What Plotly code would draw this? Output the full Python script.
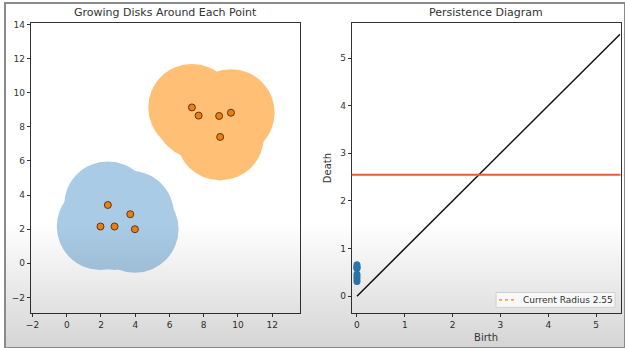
import numpy as np
import plotly.graph_objects as go

# ---- data ----
blue_x = [1.97, 2.40, 2.79, 3.71, 3.98]
blue_y = [2.16, 3.42, 2.16, 2.88, 2.00]
orange_x = [7.31, 7.70, 8.90, 9.59, 8.96]
orange_y = [9.14, 8.66, 8.64, 8.83, 7.41]
radius = 2.55

births = [0, 0, 0, 0, 0, 0, 0, 0]
deaths = [0.31, 0.36, 0.41, 0.46, 0.58, 0.60, 0.62, 0.66]
diag = [0, 5.5]

left_xticks = [-2, 0, 2, 4, 6, 8, 10, 12]
left_yticks = [-2, 0, 2, 4, 6, 8, 10, 12, 14]
right_ticks = [0, 1, 2, 3, 4, 5]

FONT = "DejaVu Sans"
TXT = "#333333"
W, H = 625, 348

fig = go.Figure()

# points on left plot
fig.add_trace(go.Scatter(
    x=blue_x + orange_x, y=blue_y + orange_y, mode="markers",
    marker=dict(size=7, color="#f07d12", line=dict(color="#5a3815", width=1)),
    showlegend=False, xaxis="x", yaxis="y", hoverinfo="skip"))

# persistence diagram
fig.add_trace(go.Scatter(
    x=diag, y=diag, mode="lines", line=dict(color="#111111", width=1.5),
    showlegend=False, xaxis="x2", yaxis="y2"))
fig.add_trace(go.Scatter(
    x=births, y=deaths, mode="markers",
    marker=dict(size=7, color="#2f7bb6"),
    showlegend=False, xaxis="x2", yaxis="y2"))

# screen-capture shading at the bottom (overlay)
fig.add_trace(go.Scatter(
    x=[0, 1, 1, 0, 0], y=[0, 0, 0.37, 0.37, 0], mode="lines",
    line=dict(width=0), fill="toself",
    fillgradient=dict(type="vertical", start=0, stop=0.37,
                      colorscale=[[0, "rgba(0,0,0,0.17)"], [1, "rgba(0,0,0,0)"]]),
    showlegend=False, hoverinfo="skip", xaxis="x3", yaxis="y3"))

shapes = []
for xs, ys, col in [(blue_x, blue_y, "#a9cbe6"), (orange_x, orange_y, "#ffbf74")]:
    for cx, cy in zip(xs, ys):
        shapes.append(dict(type="circle", xref="x", yref="y",
                           x0=cx - radius, x1=cx + radius,
                           y0=cy - radius, y1=cy + radius,
                           fillcolor=col, line=dict(width=0), layer="below"))
shapes.append(dict(type="line", xref="x2 domain", yref="y2",
                   x0=0, x1=1, y0=radius, y1=radius,
                   line=dict(color="#ea5a3c", width=2.2)))

# compact legend box (matplotlib-style)
def px(x):
    return x / W

def py(y):
    return (H - y) / H

shapes.append(dict(type="rect", xref="paper", yref="paper",
                   x0=px(495), x1=px(615), y0=py(307), y1=py(292),
                   fillcolor="rgba(250,250,250,0.85)",
                   line=dict(color="#cfcfcf", width=1), layer="above"))
shapes.append(dict(type="line", xref="paper", yref="paper",
                   x0=px(498), x1=px(516), y0=py(299.5), y1=py(299.5),
                   line=dict(color="#ff7f0e", width=1.2, dash="dot"), layer="above"))

# outer frame
shapes.append(dict(type="rect", xref="paper", yref="paper", x0=0, x1=1, y0=0, y1=1,
                   line=dict(color="#8a8a8a", width=2), layer="above"))

ydom = [35 / 348, 328 / 348]
axcommon = dict(showgrid=False, zeroline=False, showline=True, mirror=True,
                linecolor="#333333", linewidth=1, ticks="outside", ticklen=3,
                tickcolor="#333333", tickfont=dict(family=FONT, size=9, color=TXT))

fig.update_layout(
    width=W, height=H,
    margin=dict(l=0, r=0, t=0, b=0),
    paper_bgcolor="white", plot_bgcolor="rgba(0,0,0,0)",
    font=dict(family=FONT, color=TXT),
    shapes=shapes,
    showlegend=False,
    xaxis=dict(domain=[26 / 625, 297 / 625], range=[-2.1, 13.6],
               tickvals=left_xticks, anchor="y", **axcommon),
    yaxis=dict(domain=ydom, range=[-2.93, 14.1], tickvals=left_yticks,
               anchor="x", **axcommon),
    xaxis2=dict(domain=[349.5 / 625, 620.5 / 625], range=[-0.11, 5.51],
                tickvals=right_ticks, anchor="y2",
                title=dict(text="Birth", font=dict(family=FONT, size=10, color=TXT), standoff=4),
                **axcommon),
    yaxis2=dict(domain=ydom, range=[-0.36, 5.74], tickvals=right_ticks, anchor="x2",
                title=dict(text="Death", font=dict(family=FONT, size=10, color=TXT), standoff=6),
                **axcommon),
    xaxis3=dict(domain=[0, 1], range=[0, 1], visible=False, fixedrange=True, anchor="y3"),
    yaxis3=dict(domain=[0, 1], range=[0, 1], visible=False, fixedrange=True, anchor="x3"),
    annotations=[
        dict(text="Growing Disks Around Each Point", xref="paper", yref="paper",
             x=161.5 / 625, y=338 / 348, xanchor="center", yanchor="middle",
             showarrow=False, font=dict(family=FONT, size=11, color=TXT)),
        dict(text="Persistence Diagram", xref="paper", yref="paper",
             x=485 / 625, y=338 / 348, xanchor="center", yanchor="middle",
             showarrow=False, font=dict(family=FONT, size=11, color=TXT)),
        dict(text=f"Current Radius {radius}", xref="paper", yref="paper",
             x=px(520), y=py(299.5), xanchor="left", yanchor="middle",
             showarrow=False, font=dict(family=FONT, size=9, color=TXT)),
    ],
)

fig.write_html("out.html")
